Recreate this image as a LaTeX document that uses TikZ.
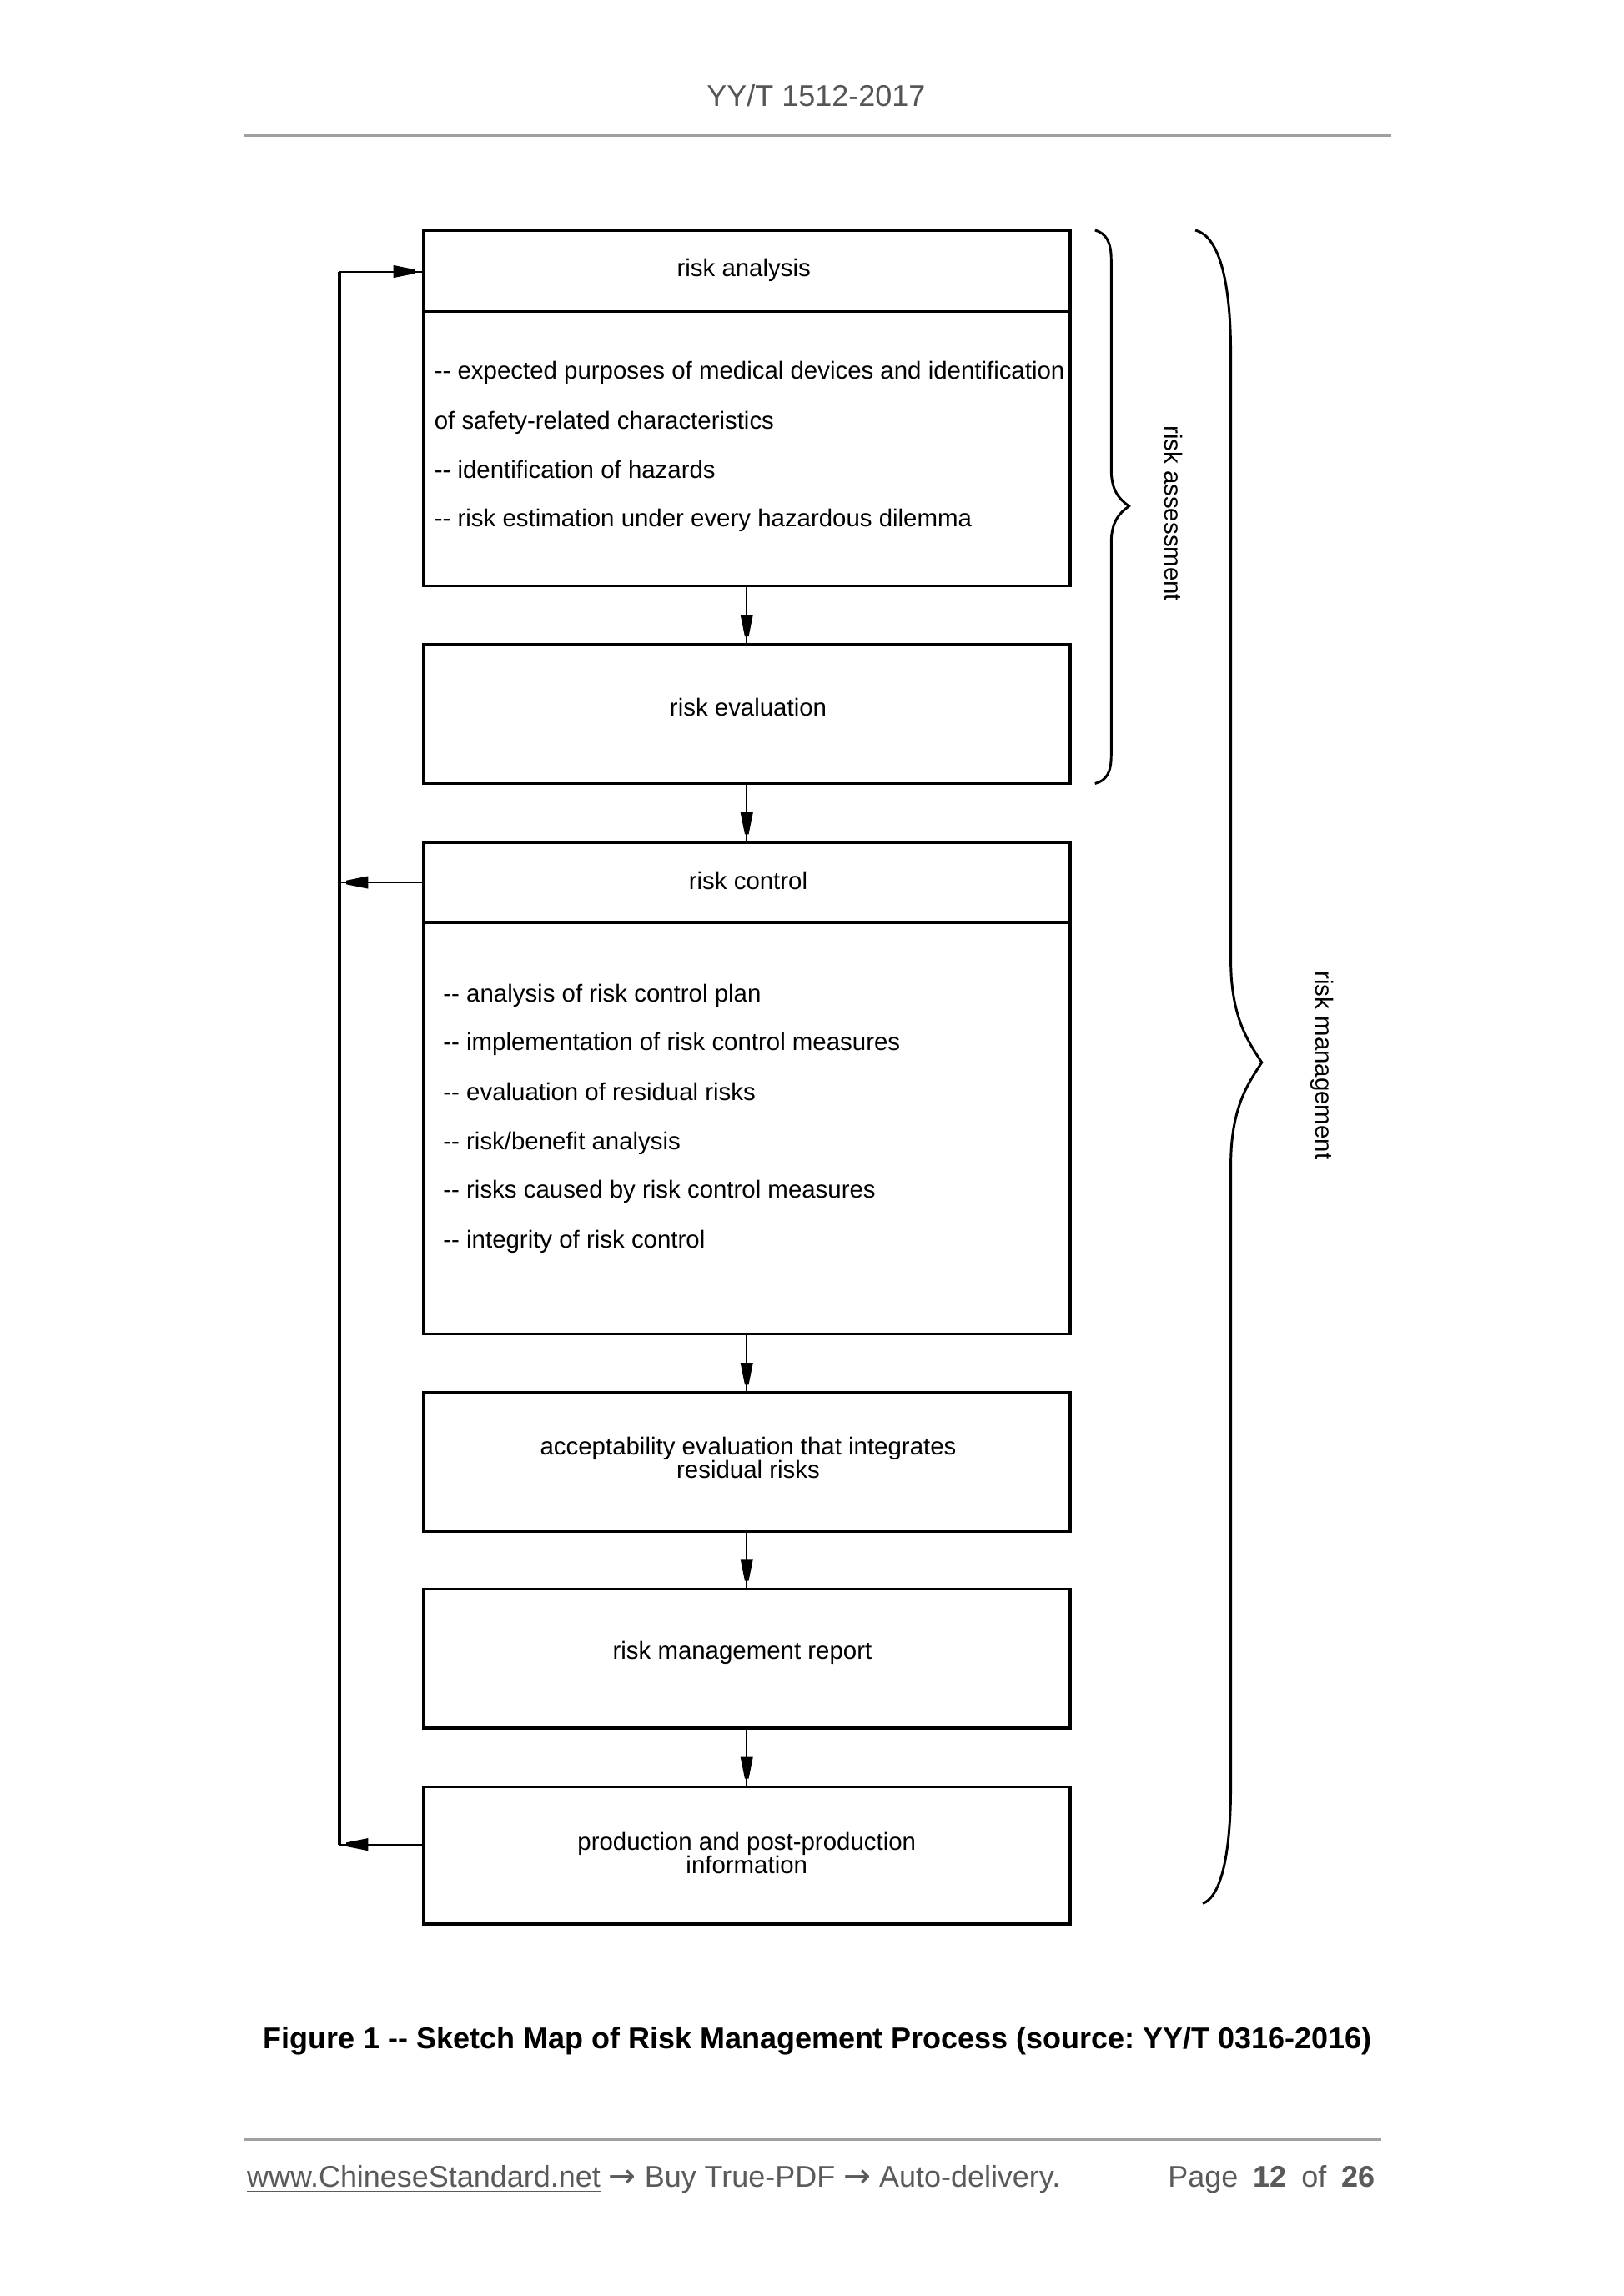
\documentclass[tikz,border=0pt]{standalone}
\usepackage{fontspec}
\setmainfont{Liberation Sans}
\newfontfamily\arrowfont{DejaVu Sans}
\usetikzlibrary{arrows.meta,decorations.markings}
\definecolor{hdrgray}{HTML}{555555}
\definecolor{rulegray}{HTML}{A0A0A0}
\definecolor{footgray}{HTML}{5A5A5A}
\frenchspacing
\newcommand{\footarrow}{{\arrowfont\fontsize{12}{13}\selectfont →}}
\begin{document}
\begin{tikzpicture}[x=0.5412pt,y=-0.5412pt,
  box/.style={draw, line width=1.1pt, minimum width=237.04pt, inner sep=0pt},
  flow/.style={line width=0.6pt, postaction={decorate},
    decoration={markings, mark=at position -2.5pt with {\fill (-8pt,2.3pt) -- (-7.4pt,2.2pt) -- (0pt,0.7pt) -- (0pt,-0.7pt) -- (-7.4pt,-2.2pt) -- (-8pt,-2.3pt) -- cycle;}}},
  feed/.style={line width=1.4pt},
  txt/.style={font=\fontsize{9}{11}\selectfont, inner sep=0pt},
  bodytxt/.style={txt, anchor=base west},
  twoline/.style={font=\fontsize{9}{8.7}\selectfont, align=center, inner sep=0pt},
  brace/.style={line width=0.9pt},
  sidelabel/.style={txt, rotate=-90}]
\useasboundingbox (0,0) rectangle (1100,1556);
\fill[white] (0,0) rectangle (1100,1556);

% header
\node[font=\fontsize{11}{13}\selectfont, text=hdrgray, inner sep=0pt] (hdr) at (553,65) {YY/T 1512-2017};
\draw[rulegray, line width=0.8pt] (165,92) -- (943,92);

% boxes
\node[box, minimum height=130.43pt] (ra) at (506,276.5) {};
\node[box, minimum height=50.87pt] (re) at (506,484) {};
\node[box, minimum height=180.22pt] (rc) at (506,737.5) {};
\node[box, minimum height=50.87pt] (ae) at (506,991) {};
\node[box, minimum height=50.87pt] (rm) at (506,1124) {};
\node[box, minimum height=50.33pt] (pp) at (506,1257.5) {};

% dividers
\coordinate (d1) at (287,211);
\coordinate (d3) at (287,625);
\draw[line width=1.1pt] (d1) -- (d1 -| ra.east);
\draw[line width=1.1pt] (d3) -- (d3 -| rc.east);

% texts
\node[txt] (ratitle) at (504,183) {risk analysis};
\node[bodytxt] (ra1) at (294,257) {-{}- expected purposes of medical devices and identification};
\node[bodytxt] (ra2) at (294,291) {of safety-related characteristics};
\node[bodytxt] (ra3) at (294,324) {-{}- identification of hazards};
\node[bodytxt] (ra4) at (294,357) {-{}- risk estimation under every hazardous dilemma};

\node[txt] (retxt) at (507,479) {risk evaluation};

\node[txt] (rctitle) at (507,597) {risk control};
\node[bodytxt] (rc1) at (300,679) {-{}- analysis of risk control plan};
\node[bodytxt] (rc2) at (300,712) {-{}- implementation of risk control measures};
\node[bodytxt] (rc3) at (300,746) {-{}- evaluation of residual risks};
\node[bodytxt] (rc4) at (300,779) {-{}- risk/benefit analysis};
\node[bodytxt] (rc5) at (300,812) {-{}- risks caused by risk control measures};
\node[bodytxt] (rc6) at (300,846) {-{}- integrity of risk control};

\node[twoline] (aetxt) at (507,988) {acceptability evaluation that integrates\\residual risks};
\node[txt] (rmtxt) at (503,1120) {risk management report};
\node[twoline] (pptxt) at (506,1256) {production and post-production\\information};

% flow arrows
\draw[flow] (ra.south) -- (re.north);
\draw[flow] (re.south) -- (rc.north);
\draw[flow] (rc.south) -- (ae.north);
\draw[flow] (ae.south) -- (rm.north);
\draw[flow] (rm.south) -- (pp.north);

% feedback loop
\coordinate (fbtop) at (230,184);
\coordinate (fbbot) at (230,1250);
\coordinate (rcl) at (287,598);
\coordinate (ppl) at (287,1250);
\draw[feed] (fbbot) -- (fbtop);
\draw[flow] (fbtop) -- (fbtop -| ra.west);
\draw[flow] (rcl) -- (rcl -| fbtop);
\draw[flow] (ppl) -- (fbbot);

% braces
\draw[brace] (742,156) .. controls (750,158) and (753,165) .. (753,176) -- (753,318)
  .. controls (753,332) and (758,338) .. (765,343)
  .. controls (758,348) and (753,354) .. (753,368) -- (753,512)
  .. controls (753,523) and (750,529) .. (742,531);
\node[sidelabel] (rasslabel) at (795,348) {risk assessment};

\draw[brace] (810,156) .. controls (826,160) and (834,190) .. (834,240) -- (834,650)
  .. controls (834,690) and (846,706) .. (855,720)
  .. controls (846,734) and (834,750) .. (834,790) -- (834,1210)
  .. controls (834,1262) and (826,1286) .. (815,1290);
\node[sidelabel] (rmlabel) at (896,722) {risk management};

% caption
\node[font=\bfseries\fontsize{11}{13}\selectfont, inner sep=0pt] (cap) at (554,1383) {Figure 1 -{}- Sketch Map of Risk Management Process (source: YY/T 0316-2016)};

% footer
\draw[rulegray, line width=0.8pt] (165,1450) -- (936,1450);
\node[font=\fontsize{11}{13}\selectfont, text=footgray, anchor=west, inner sep=0pt] (url) at (167,1477) {\underline{www.ChineseStandard.net} \footarrow{} Buy True-PDF \footarrow{} Auto-delivery.};
\node[font=\fontsize{11}{13}\selectfont, text=footgray, anchor=east, inner sep=0pt] (pg) at (932,1477) {Page\hspace{0.5em}\textbf{12}\hspace{0.5em}of\hspace{0.5em}\textbf{26}};
\end{tikzpicture}
\end{document}
